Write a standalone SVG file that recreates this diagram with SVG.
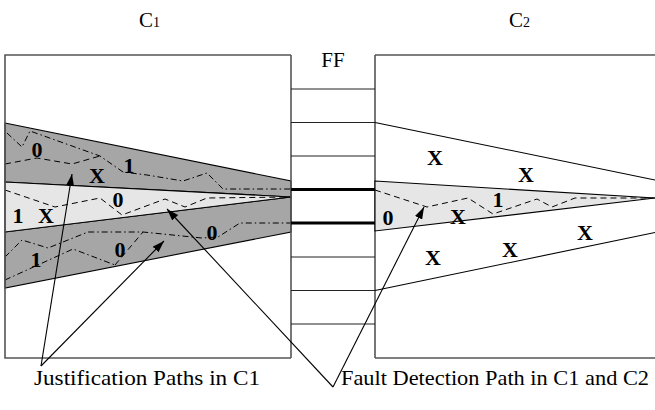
<svg xmlns="http://www.w3.org/2000/svg" width="655" height="410" viewBox="0 0 655 410">
  <defs>
    <marker id="arrow" markerWidth="12" markerHeight="8" refX="12" refY="4" orient="auto" markerUnits="userSpaceOnUse">
      <path d="M0,0 L12,4 L0,8 z" fill="#000"/>
    </marker>
    <style>
      .box { fill: none; stroke: #555; stroke-width: 1.6; }
      .cell { stroke: #222; stroke-width: 1.1; }
      .bus { stroke: #000; stroke-width: 3; }
      .dark { fill: #a6a6a6; stroke: #000; stroke-width: 1.1; }
      .light { fill: #e6e6e6; stroke: #000; stroke-width: 1.1; }
      .edge { fill: none; stroke: #000; stroke-width: 1.1; }
      .dash { fill: none; stroke: #000; stroke-width: 1; stroke-dasharray: 6 4; }
      .dashdot { fill: none; stroke: #000; stroke-width: 1; stroke-dasharray: 6 3 1.5 3; }
      .val { font-family: "Liberation Serif", "Times New Roman", serif; font-weight: bold; font-size: 22px; text-anchor: middle; }
      .txt { font-family: "Liberation Serif", "Times New Roman", serif; font-size: 21px; }
      .cap { font-family: "Liberation Serif", "Times New Roman", serif; font-size: 22px; }
      .arr { fill: none; stroke: #000; stroke-width: 1.1; marker-end: url(#arrow); }
    </style>
  </defs>
  <rect width="655" height="410" fill="#fff"/>

  <!-- circuit C1 -->
  <g id="c1">
    <polygon class="dark" points="5,123 291,181 291,197 5,182"/>
    <polygon class="dark" points="5,232 291,197 291,232 5,288"/>
    <polygon class="light" points="5,182 291,197 5,232"/>
    <!-- justification paths, upper cone -->
    <polyline class="dashdot" points="7,133 22,147 30,131 100,156 123,172 147,175 183,181 207,173 223,189 291,189"/>
    <polyline class="dash" points="5,164 37,158 72,164 100,156"/>
    <!-- justification paths, lower cone -->
    <polyline class="dashdot" points="5,257 22,240 48,248 88,232 143,232 202,238 218,237 240,223 291,223"/>
    <polyline class="dashdot" points="5,280 73,249 115,265"/>
    <polyline class="dash" points="115,265 143,232"/>
    <!-- fault propagation path -->
    <polyline class="dash" points="5,190 55,207 100,198 122,215 165,199 185,207 207,198 291,197"/>
    <path class="box" d="M291,55 H5 V358 H291"/>
    <text class="val" x="37" y="157">0</text>
    <text class="val" x="97" y="183">X</text>
    <text class="val" x="129" y="173">1</text>
    <text class="val" x="18" y="223">1</text>
    <text class="val" x="46" y="223">X</text>
    <text class="val" x="118" y="207">0</text>
    <text class="val" x="36" y="267">1</text>
    <text class="val" x="120" y="257">0</text>
    <text class="val" x="212" y="240">0</text>
  </g>

  <!-- flip-flop column -->
  <g id="ff">
    <line class="box" x1="291" y1="55" x2="291" y2="358"/>
    <line class="box" x1="375" y1="55" x2="375" y2="358"/>
    <line class="cell" x1="291" y1="89" x2="375" y2="89"/>
    <line class="cell" x1="291" y1="122.5" x2="375" y2="122.5"/>
    <line class="cell" x1="291" y1="156" x2="375" y2="156"/>
    <line class="bus" x1="291" y1="189.5" x2="375" y2="189.5"/>
    <line class="bus" x1="291" y1="223" x2="375" y2="223"/>
    <line class="cell" x1="291" y1="257" x2="375" y2="257"/>
    <line class="cell" x1="291" y1="290.5" x2="375" y2="290.5"/>
    <line class="cell" x1="291" y1="324" x2="375" y2="324"/>
    <text class="txt" x="333" y="67" text-anchor="middle">FF</text>
  </g>

  <!-- circuit C2 -->
  <g id="c2">
    <line class="edge" x1="375" y1="122.5" x2="655" y2="180"/>
    <line class="edge" x1="375" y1="290.5" x2="655" y2="232.5"/>
    <polygon class="light" points="375,181 655,198 375,231"/>
    <polyline class="dash" points="375,190 427,207 468,198 493,214 537,199 552,207 575,198 655,198"/>
    <path class="box" d="M375,55 H656 M375,358 H656"/>
    <text class="val" x="435" y="165">X</text>
    <text class="val" x="526" y="182">X</text>
    <text class="val" x="388" y="225">0</text>
    <text class="val" x="458" y="224">X</text>
    <text class="val" x="498" y="207">1</text>
    <text class="val" x="585" y="240">X</text>
    <text class="val" x="510" y="257">X</text>
    <text class="val" x="433" y="265">X</text>
  </g>

  <!-- titles -->
  <g id="title-c1">
    <text class="txt" x="139" y="27">C<tspan font-size="14">1</tspan></text>
  </g>
  <g id="title-c2">
    <text class="txt" x="509" y="27">C<tspan font-size="14">2</tspan></text>
  </g>
  <g id="label-justification">
    <text class="cap" x="34" y="385" textLength="226" lengthAdjust="spacingAndGlyphs">Justification Paths in C1</text>
  </g>
  <g id="label-fault">
    <text class="cap" x="341" y="385" textLength="308" lengthAdjust="spacingAndGlyphs">Fault Detection Path in C1 and C2</text>
  </g>

  <!-- pointer lines -->
  <g id="connectors">
    <line class="arr" x1="41" y1="366" x2="72" y2="174"/>
    <line class="arr" x1="41" y1="366" x2="164" y2="241"/>
    <line class="arr" x1="333" y1="387" x2="167" y2="209"/>
    <line class="arr" x1="333" y1="387" x2="424" y2="207"/>
  </g>
</svg>
